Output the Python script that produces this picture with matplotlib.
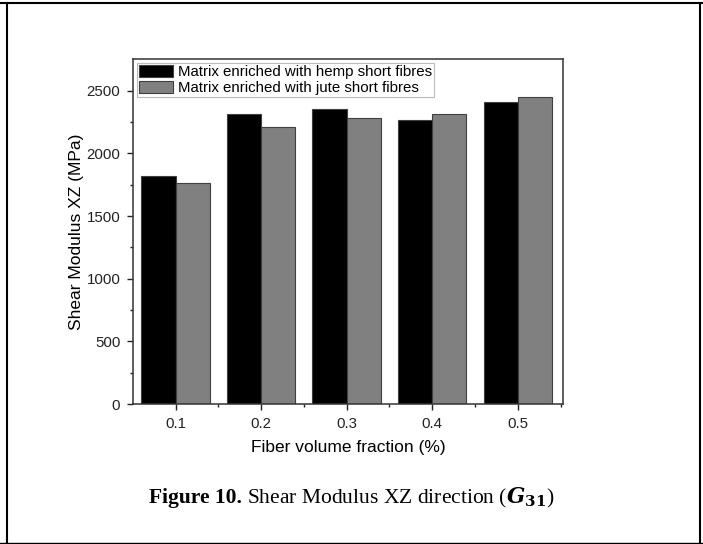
import numpy as np
import matplotlib.pyplot as plt
from matplotlib.lines import Line2D

plt.rcParams['font.family'] = ['Liberation Sans', 'DejaVu Sans']
plt.rcParams['mathtext.fontset'] = 'dejavuserif'

fractions = [0.1, 0.2, 0.3, 0.4, 0.5]
tick_labels = ['0.1', '0.2', '0.3', '0.4', '0.5']
hemp = [1820, 2310, 2352, 2262, 2412]
jute = [1762, 2208, 2285, 2314, 2450]
series_names = ['Matrix enriched with hemp short fibres',
                'Matrix enriched with jute short fibres']

fig = plt.figure(figsize=(7.03, 5.44), dpi=100)
ax = fig.add_axes([0.189, 0.257, 0.612, 0.634])

x = np.array(fractions)
w = 0.04
ax.bar(x - w / 2, hemp, width=w, color='black', edgecolor='#404040', linewidth=0.8,
       label=series_names[0])
ax.bar(x + w / 2, jute, width=w, color='#808080', edgecolor='#404040', linewidth=0.8,
       label=series_names[1])

ax.set_xlim(0.05, 0.553)
ax.set_ylim(0, 2750)
ax.set_xticks(fractions)
ax.set_xticklabels(tick_labels)
ax.set_xticks([0.15, 0.25, 0.35, 0.45, 0.55], minor=True)
ax.set_yticks([0, 500, 1000, 1500, 2000, 2500])
ax.set_yticks(np.arange(250, 2750, 500), minor=True)
ax.tick_params(which='both', direction='out', labelsize=10.8, colors='#222222', width=1)
ax.tick_params(which='major', length=4, pad=5)
ax.tick_params(which='minor', length=2.5)
for s in ax.spines.values():
    s.set_linewidth(1.1)
    s.set_color('#333333')

ax.set_xlabel('Fiber volume fraction (%)', fontsize=12.5, labelpad=7)
ax.set_ylabel('Shear Modulus XZ (MPa)', fontsize=12.5, labelpad=1.5)

leg = ax.legend(loc='upper left', fontsize=10.8, fancybox=False, framealpha=1,
                edgecolor='#bbbbbb', handlelength=2.3, handleheight=0.85,
                borderaxespad=0.25, borderpad=0.15, labelspacing=0.1,
                handletextpad=0.3)
leg.get_frame().set_linewidth(0.8)

# caption: bold part + regular part, centred together
cap_y = 0.084
cap_font = ['Liberation Serif', 'DejaVu Serif']
part1 = fig.text(0, cap_y, 'Figure 10.', fontsize=15.5, fontweight='bold',
                 family=cap_font, ha='left', va='center')
part2 = fig.text(0, cap_y, r'Shear Modulus XZ direction ($\boldsymbol{G}_{\mathbf{31}}$)',
                 fontsize=15.5, family=cap_font, ha='left', va='center')
fig.canvas.draw()
r = fig.canvas.get_renderer()
w1 = part1.get_window_extent(r).width / fig.bbox.width
w2 = part2.get_window_extent(r).width / fig.bbox.width
gap = 0.007
start = 0.500 - (w1 + gap + w2) / 2
part1.set_x(start)
part2.set_x(start + w1 + gap)

# document frame
fig.add_artist(Line2D([0, 1], [1 - 3 / 544, 1 - 3 / 544], color='black', lw=1.5,
                      transform=fig.transFigure))
fig.add_artist(Line2D([7 / 703, 7 / 703], [0, 1 - 3 / 544], color='black', lw=1.5,
                      transform=fig.transFigure))
fig.add_artist(Line2D([700 / 703, 700 / 703], [0, 1 - 3 / 544], color='black', lw=1.5,
                      transform=fig.transFigure))
fig.add_artist(Line2D([0, 1], [1 / 544, 1 / 544], color='black', lw=1,
                      transform=fig.transFigure))

fig.savefig('out.png', dpi=100)
